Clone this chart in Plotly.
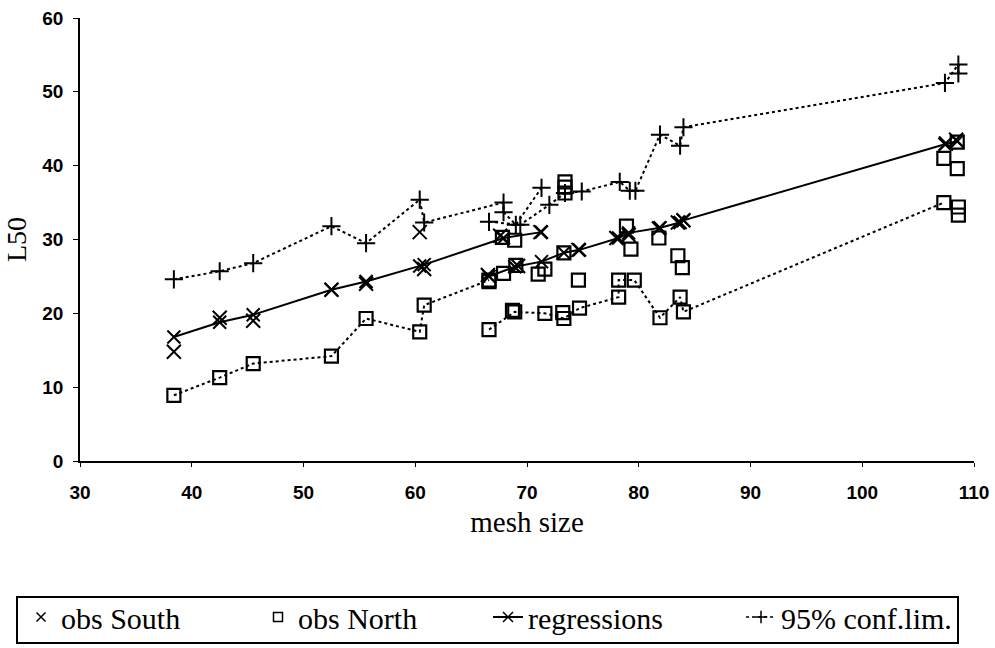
import plotly.graph_objects as go

# ---- data ----
obs_south_x = [38.4, 42.5, 45.5, 52.5, 55.6, 60.4, 60.8, 66.5, 67.6, 69.2, 71.2, 74.6, 78.0, 79.1, 81.8, 83.5, 84.0, 107.5, 108.4]
obs_south_y = [14.8, 19.4, 19.0, 23.2, 24.0, 31.0, 26.0, 25.2, 30.5, 26.4, 31.0, 28.6, 30.2, 30.6, 31.5, 32.3, 32.6, 43.0, 43.5]

obs_north_x = [66.6, 67.9, 67.8, 68.9, 69.0, 68.7, 71.0, 71.6, 73.2, 73.3, 73.4, 73.4, 73.4, 74.6, 78.9, 79.3, 81.8, 83.5, 83.9, 107.3, 108.5, 108.5, 108.6, 108.6]
obs_north_y = [24.3, 25.4, 30.3, 29.9, 26.5, 20.4, 25.3, 26.0, 20.1, 28.2, 36.3, 37.1, 37.8, 24.5, 31.8, 28.7, 30.2, 27.8, 26.2, 41.0, 43.2, 39.6, 34.4, 33.3]

reg_south_x = [38.4, 42.5, 45.5, 52.5, 55.6, 60.4, 60.8, 67.9, 71.3]
reg_south_y = [16.8, 18.8, 19.8, 23.2, 24.3, 26.4, 26.6, 30.2, 31.0]
reg_north_x = [66.6, 68.9, 71.3, 73.3, 74.7, 78.2, 79.1, 81.9, 83.7, 84.0, 107.4, 108.5]
reg_north_y = [25.0, 26.3, 27.0, 28.2, 28.6, 30.2, 30.9, 31.6, 32.3, 32.6, 42.9, 43.3]

up_south_x = [38.4, 42.5, 45.5, 52.5, 55.6, 60.4, 60.8, 67.9, 67.9, 69.0, 71.3]
up_south_y = [24.6, 25.7, 26.8, 31.8, 29.5, 35.4, 32.3, 35.0, 33.7, 32.0, 37.0]
up_north_x = [66.6, 69.4, 72.0, 73.4, 74.9, 78.3, 79.2, 79.7, 81.9, 83.7, 84.0, 107.4, 108.6, 108.6]
up_north_y = [32.4, 32.0, 34.7, 36.3, 36.5, 37.8, 36.6, 36.6, 44.2, 42.7, 45.2, 51.2, 53.7, 52.5]

lo_south_x = [38.4, 42.5, 45.5, 52.5, 55.6, 60.4, 60.8, 66.6]
lo_south_y = [8.9, 11.3, 13.2, 14.2, 19.3, 17.5, 21.1, 24.5]
lo_north_x = [66.6, 68.9, 71.6, 73.3, 74.7, 78.2, 78.2, 79.6, 81.9, 83.7, 84.0, 107.3]
lo_north_y = [17.8, 20.2, 20.0, 19.3, 20.7, 22.2, 24.5, 24.5, 19.4, 22.2, 20.2, 35.0]

x_ticks = [30, 40, 50, 60, 70, 80, 90, 100, 110]
y_ticks = [0, 10, 20, 30, 40, 50, 60]

BLACK = "black"
fig = go.Figure()

# lower confidence limits (drawn with square symbols in the source)
for lx, ly in [(lo_south_x, lo_south_y), (lo_north_x, lo_north_y)]:
    fig.add_trace(go.Scatter(
        x=lx, y=ly, mode="lines+markers", showlegend=False,
        line=dict(color=BLACK, width=2, dash="dot"),
        marker=dict(symbol="square-open", size=13, color=BLACK, line=dict(width=2.2, color=BLACK)),
    ))

# upper confidence limits
for ux, uy in [(up_south_x, up_south_y), (up_north_x, up_north_y)]:
    fig.add_trace(go.Scatter(
        x=ux, y=uy, mode="lines+markers", name="95% conf.lim.", showlegend=False,
        line=dict(color=BLACK, width=2, dash="dot"),
        marker=dict(symbol="cross-thin-open", size=13, color=BLACK, line=dict(width=2, color=BLACK)),
    ))

# regressions
for rx, ry in [(reg_south_x, reg_south_y), (reg_north_x, reg_north_y)]:
    fig.add_trace(go.Scatter(
        x=rx, y=ry, mode="lines+markers", name="regressions", showlegend=False,
        line=dict(color=BLACK, width=2),
        marker=dict(symbol="x-thin-open", size=13, color=BLACK, line=dict(width=2, color=BLACK)),
    ))

# observations
fig.add_trace(go.Scatter(
    x=obs_south_x, y=obs_south_y, mode="markers", name="obs South", showlegend=False,
    marker=dict(symbol="x-thin-open", size=14, color=BLACK, line=dict(width=2, color=BLACK)),
))
fig.add_trace(go.Scatter(
    x=obs_north_x, y=obs_north_y, mode="markers", name="obs North", showlegend=False,
    marker=dict(symbol="square-open", size=13, color=BLACK, line=dict(width=2.2, color=BLACK)),
))

# legend key entries, one legend each so they sit where the original key has them
fig.add_trace(go.Scatter(x=[None], y=[None], mode="markers", name="obs South", legend="legend",
                         marker=dict(symbol="x-thin-open", size=9, color=BLACK, line=dict(width=1.5, color=BLACK))))
fig.add_trace(go.Scatter(x=[None], y=[None], mode="markers", name="obs North", legend="legend2",
                         marker=dict(symbol="square-open", size=9, color=BLACK, line=dict(width=1.5, color=BLACK))))
fig.add_trace(go.Scatter(x=[None], y=[None], mode="lines+markers", name="regressions", legend="legend3",
                         line=dict(color=BLACK, width=2),
                         marker=dict(symbol="x-thin-open", size=10, color=BLACK, line=dict(width=1.5, color=BLACK))))
fig.add_trace(go.Scatter(x=[None], y=[None], mode="lines+markers", name="95% conf.lim.", legend="legend4",
                         line=dict(color=BLACK, width=1.5, dash="dot"),
                         marker=dict(symbol="cross-thin-open", size=9, color=BLACK, line=dict(width=1.5, color=BLACK))))

tickfont = dict(family="Liberation Sans", size=19, color=BLACK, weight="bold")
legfont = dict(family="Liberation Serif", size=30, color=BLACK)

L, R, T, B = 80, 21, 18, 187
W, H = 995, 648
pw, ph = W - L - R, H - T - B


def px_x(p):
    return (p - L) / pw


def px_y(p):
    return (H - B - p) / ph


leg_y = px_y(591)
common_leg = dict(orientation="h", yanchor="top", xanchor="left", y=leg_y,
                  bgcolor="rgba(0,0,0,0)", borderwidth=0, font=legfont)

fig.update_layout(
    width=W, height=H,
    margin=dict(l=L, r=R, t=T, b=B, autoexpand=False),
    paper_bgcolor="white", plot_bgcolor="white",
    showlegend=True,
    xaxis=dict(
        range=[30, 110], tickvals=x_ticks, ticktext=[str(v) for v in x_ticks],
        showgrid=False, zeroline=False, showline=True, linecolor=BLACK, linewidth=1.5,
        ticks="outside", ticklen=4, tickcolor=BLACK, tickwidth=1.2,
        ticklabelstandoff=9,
        tickfont=tickfont,
        title=dict(text="mesh size", font=dict(family="Liberation Serif", size=29, color=BLACK), standoff=10),
    ),
    yaxis=dict(
        range=[0, 60], tickvals=y_ticks, ticktext=[str(v) for v in y_ticks],
        showgrid=False, zeroline=False, showline=True, linecolor=BLACK, linewidth=1.5,
        ticks="outside", ticklen=5, tickcolor=BLACK, tickwidth=1.2,
        ticklabelstandoff=6,
        tickfont=tickfont,
        title=dict(text="L50", font=dict(family="Liberation Serif", size=28, color=BLACK), standoff=8),
    ),
    legend=dict(x=px_x(21), **common_leg),
    legend2=dict(x=px_x(258), **common_leg),
    legend3=dict(x=px_x(488), **common_leg),
    legend4=dict(x=px_x(741), **common_leg),
    shapes=[dict(type="rect", xref="paper", yref="paper",
                 x0=px_x(17), x1=px_x(958), y0=px_y(643), y1=px_y(597),
                 line=dict(color=BLACK, width=2), fillcolor="rgba(0,0,0,0)", layer="above")],
)

fig.write_html("out.html")
